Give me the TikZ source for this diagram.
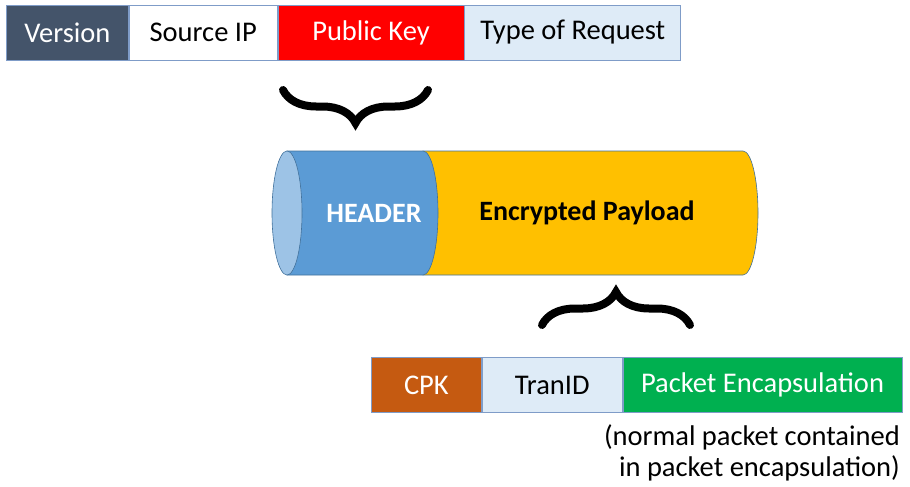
\documentclass[tikz,border=0pt]{standalone}
\usepackage{fontspec}
\setmainfont{Carlito}
\usetikzlibrary{decorations.pathreplacing}
\definecolor{verC}{HTML}{44546A}
\definecolor{pkC}{HTML}{FF0000}
\definecolor{lbC}{HTML}{DEEBF7}
\definecolor{cpkC}{HTML}{C55A11}
\definecolor{encC}{HTML}{00B050}
\definecolor{bordC}{HTML}{7F9CC8}
\definecolor{hdrC}{HTML}{5B9BD5}
\definecolor{hdrL}{HTML}{9DC3E6}
\definecolor{payC}{HTML}{FFC000}
\definecolor{cylB}{HTML}{41719C}
\tikzset{
  field/.style={draw=bordC, line width=0.8pt, minimum height=55pt, inner sep=0pt, anchor=west, font=\fontsize{28.5}{32}\selectfont},
  bigbrace/.style={decorate, decoration={brace, amplitude=33pt}, line width=8pt, line cap=round},
  cyltext/.style={font=\bfseries\fontsize{28}{32}\selectfont},
}
\begin{document}
\begin{tikzpicture}[x=1pt,y=-1pt]
\useasboundingbox (0,0) rectangle (910,487);
% top row
\node[field, fill=verC, text=white, minimum width=122pt] (ver) at (6,32.5) {Version};
\node[field, fill=white, text=black, minimum width=148pt] (src) at (ver.east) {Source IP};
\node[field, fill=pkC, text=white, minimum width=186pt] (pk) at (src.east) {Public Key};
\node[field, fill=lbC, text=black, minimum width=216pt] (tor) at (pk.east) {Type of Request};
% top brace
\coordinate (b1l) at (283,90);
\coordinate (b1r) at (428,90);
\draw[bigbrace] (b1r) -- (b1l);
% cylinder
\fill[payC, draw=cylB, line width=0.6pt] (423,151) -- (743,151) arc[start angle=90, end angle=-90, x radius=15pt, y radius=62pt] -- (423,275) -- cycle;
\fill[hdrC, draw=cylB, line width=0.6pt] (287,151) -- (423,151) arc[start angle=90, end angle=-90, x radius=15pt, y radius=62pt] -- (287,275) -- cycle;
\fill[hdrL, draw=cylB, line width=0.6pt] (287,213) ellipse[x radius=15pt, y radius=62pt];
\node[cyltext, text=white] (hdr) at (374,213) {HEADER};
\node[cyltext, text=black] (pay) at (587,213) {Encrypted Payload};
% bottom brace
\coordinate (b2l) at (542,325);
\coordinate (b2r) at (690,325);
\draw[bigbrace] (b2l) -- (b2r);
% bottom row
\node[field, fill=cpkC, text=white, minimum width=110pt] (cpk) at (371,385) {CPK};
\node[field, fill=lbC, text=black, minimum width=140pt] (tid) at (cpk.east) {TranID};
\node[field, fill=encC, text=white, minimum width=279pt] (penc) at (tid.east) {Packet Encapsulation};
\node[anchor=north east, align=right, inner sep=0pt, font=\fontsize{28.5}{31}\selectfont] (note) at (900,424) {(normal packet contained\\in packet encapsulation)};
\end{tikzpicture}
\end{document}
